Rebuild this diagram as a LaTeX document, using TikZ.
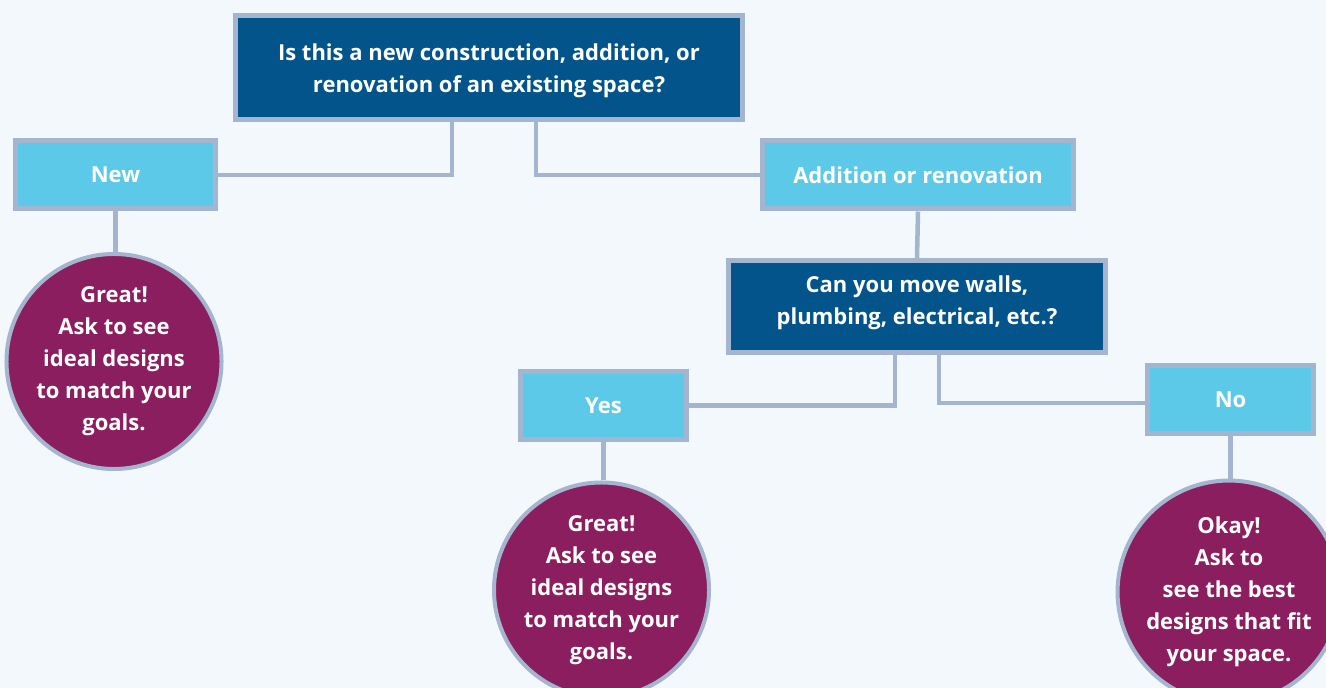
\documentclass[tikz,border=0pt]{standalone}
\usepackage{fontspec}
\setmainfont{Open Sans}
\usepackage{tikz}

\definecolor{paper}{RGB}{242,248,252}
\definecolor{edge}{RGB}{164,181,208}
\definecolor{deepblue}{RGB}{2,84,139}
\definecolor{skyblue}{RGB}{93,201,233}
\definecolor{plum}{RGB}{139,30,94}

\tikzset{
  question/.style={draw=edge, line width=2.5pt, fill=deepblue, text=white,
    font=\fontsize{11}{16}\selectfont\bfseries, align=center, inner sep=0pt},
  answer/.style={draw=edge, line width=2.5pt, fill=skyblue, text=white,
    font=\fontsize{11}{16}\selectfont\bfseries, align=center, inner sep=0pt,
    minimum width=83pt, minimum height=34pt},
  outcome/.style={circle, draw=edge, line width=2pt, fill=plum, text=white,
    font=\fontsize{11}{16}\selectfont\bfseries, align=center, inner sep=0pt,
    minimum size=103pt},
  link/.style={draw=edge, line width=2.25pt}
}

\begin{document}
\begin{tikzpicture}[x=0.5pt,y=-0.5pt]
          \useasboundingbox (0,0) rectangle (1326,688);
          \clip (0,0) rectangle (1326,688);
          \fill [paper] (0,0) rectangle (1326,688);

          % Questions
          \node [question, minimum width=253.5pt, minimum height=52pt,
            text height=27.7pt, text depth=3pt]
            (start) at (489,67.5) {Is this a new construction, addition, or\\
            renovation of an existing space?};
          \node [question, minimum width=188.5pt, minimum height=46pt,
            text height=21.2pt, text depth=3pt]
            (walls) at (917,306.5) {Can you move walls,\\
            plumbing, electrical, etc.?};

          % Answers
          \node [answer, minimum width=100pt] (new) at (115.5,175) {New};
          \node [answer, minimum width=155.5pt] (change) at (918,175)
            {Addition or renovation};
          \node [answer] (yes) at (603.5,405.5) {Yes};
          \node [answer] (no) at (1230.5,400) {No};

          % Outcomes
          \node [outcome] (great1) at (114,361.5) {Great!\\ Ask to see\\
            ideal designs\\ to match your\\ goals.};
          \node [outcome] (great2) at (601.5,590) {Great!\\ Ask to see\\
            ideal designs\\ to match your\\ goals.};
          \node [outcome] (okay) at (1229,592) {Okay!\\ Ask to\\
            see the best\\ designs that fit\\ your space.};

          % Lines
          \coordinate (startL) at (452,121);
          \coordinate (startR) at (536,121);
          \coordinate (wallsL) at (895,354);
          \coordinate (wallsR) at (939,354);
          \draw [link] (new.east) -| (startL);
          \draw [link] (startR) |- (change.west);
          \draw [link] (change.south) -- (walls.north);
          \draw [link] (wallsL) |- (yes.east);
          \draw [link] (wallsR) |- ([yshift=-1.5pt]no.west);
          \draw [link] (new.south) -- (new.south |- great1.north);
          \draw [link] (yes.south) -- (yes.south |- great2.north);
          \draw [link] (no.south) -- (no.south |- okay.north);
        \end{tikzpicture}
\end{document}
